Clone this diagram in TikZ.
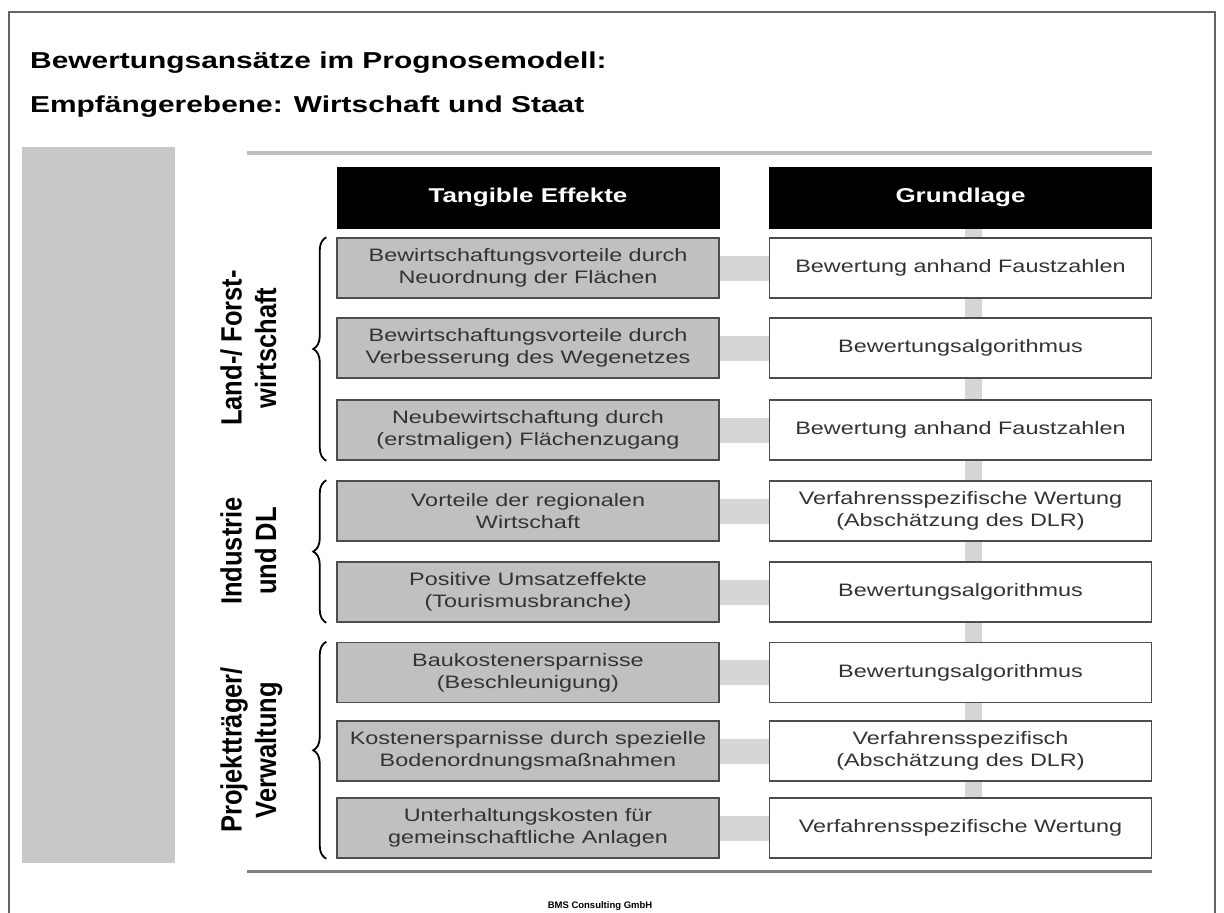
\documentclass[tikz,border=0pt]{standalone}
\usepackage{fontspec}
\usepackage{graphicx}
\setmainfont{Liberation Sans}[FakeStretch=1.3]
\newfontfamily\gruppenfont{Liberation Sans}
\usetikzlibrary{decorations.pathreplacing,backgrounds}
\definecolor{kastengrau}{HTML}{C0C0C0}
\definecolor{randgrau}{HTML}{4D4D4D}
\definecolor{textgrau}{HTML}{333333}
\definecolor{bandgrau}{HTML}{D6D6D6}
\definecolor{flaeche}{HTML}{C8C8C8}

\begin{document}
\begin{tikzpicture}[x=1pt,y=-1pt,
    effekt/.style={draw=randgrau, line width=1.5pt, fill=kastengrau, text=textgrau,
      minimum width=382pt, minimum height=60pt, inner sep=0pt, align=center,
      font=\fontsize{18}{22}\selectfont},
    grundlage/.style={effekt, fill=white},
    kopf/.style={draw=black, fill=black, text=white, minimum width=382pt,
      minimum height=61pt, inner sep=0pt, font=\fontsize{20}{24}\selectfont\bfseries},
    band/.style={draw=bandgrau},
    klammer/.style={decorate, decoration={brace, amplitude=13pt}, line width=1.8pt},
    gruppe/.style={rotate=90, inner sep=0pt, font=\gruppenfont\fontsize{25.5}{30}\selectfont\bfseries}]
    \useasboundingbox (0,0) rectangle (1224,913);
    % Rahmen und Flaechen
    \draw[line width=2pt, draw=black!60] (9,913) -- (9,12) -- (1215,12) -- (1215,913);
    \fill[flaeche] (22,147) rectangle (175,863);
    \draw[line width=4pt, draw=black!25] (247,153) -- (1152,153);
    \draw[line width=3pt, draw=black!50] (247,871) -- (1152,871);
    % Titel
    \node[anchor=base west, inner sep=0pt, font=\fontsize{23}{27}\selectfont\bfseries] (titel1) at (30,68) {Bewertungsans\"atze im Prognosemodell:};
    \node[anchor=base west, inner sep=0pt, font=\fontsize{23}{27}\selectfont\bfseries] (titel2) at (30,112) {Empf\"angerebene: Wirtschaft und Staat};
    % Kopfzeile
    \node[kopf] (heff) at (528,197.5) {Tangible Effekte};
    \node[kopf] (hgrund) at (960.5,197.5) {Grundlage};
    % Tangible Effekte
    \node[effekt] (e1) at (528,268) {Bewirtschaftungsvorteile durch\\Neuordnung der Fl\"achen};
    \node[effekt] (e2) at (528,348) {Bewirtschaftungsvorteile durch\\Verbesserung des Wegenetzes};
    \node[effekt] (e3) at (528,430) {Neubewirtschaftung durch\\(erstmaligen) Fl\"achenzugang};
    \node[effekt] (e4) at (528,511) {Vorteile der regionalen\\Wirtschaft};
    \node[effekt] (e5) at (528,592) {Positive Umsatzeffekte\\(Tourismusbranche)};
    \node[effekt] (e6) at (528,672.5) {Baukostenersparnisse\\(Beschleunigung)};
    \node[effekt] (e7) at (528,751) {Kostenersparnisse durch spezielle\\Bodenordnungsma\ss nahmen};
    \node[effekt] (e8) at (528,828) {Unterhaltungskosten f\"ur\\gemeinschaftliche Anlagen};
    % Grundlage
    \node[grundlage] (g1) at (960.5,268) {Bewertung anhand Faustzahlen};
    \node[grundlage] (g2) at (960.5,348) {Bewertungsalgorithmus};
    \node[grundlage] (g3) at (960.5,430) {Bewertung anhand Faustzahlen};
    \node[grundlage] (g4) at (960.5,511) {Verfahrensspezifische Wertung\\(Absch\"atzung des DLR)};
    \node[grundlage] (g5) at (960.5,592) {Bewertungsalgorithmus};
    \node[grundlage] (g6) at (960.5,672.5) {Bewertungsalgorithmus};
    \node[grundlage] (g7) at (960.5,751) {Verfahrensspezifisch\\(Absch\"atzung des DLR)};
    \node[grundlage] (g8) at (960.5,828) {Verfahrensspezifische Wertung};
    % Verbindungen (hinter den Kaesten)
    \begin{scope}[on background layer]
        \draw[band, line width=17pt] ([xshift=13pt]hgrund.south) -- ([xshift=13pt]g8.north);
        \foreach \i in {1,...,8}
            \draw[band, line width=25pt] (e\i.east) -- (g\i.west);
    \end{scope}
    % Gruppen
    \draw[klammer] ([xshift=-10pt]e3.south west) -- ([xshift=-10pt]e1.north west);
    \draw[klammer] ([xshift=-10pt]e5.south west) -- ([xshift=-10pt]e4.north west);
    \draw[klammer] ([xshift=-10pt]e8.south west) -- ([xshift=-10pt]e6.north west);
    \node[gruppe] (land) at (252,348) {\scalebox{1}[1.15]{\begin{tabular}{@{}c@{}}Land-/ Forst-\\wirtschaft\end{tabular}}};
    \node[gruppe] (indu) at (252,551) {\scalebox{1}[1.15]{\begin{tabular}{@{}c@{}}Industrie\\und DL\end{tabular}}};
    \node[gruppe] (proj) at (252,750) {\scalebox{1}[1.15]{\begin{tabular}{@{}c@{}}Projekttr\"ager/\\Verwaltung\end{tabular}}};
    % Fusszeile
    \node[font=\gruppenfont\fontsize{9.5}{11}\selectfont\bfseries, inner sep=0pt] (fuss) at (600,906) {BMS Consulting GmbH};
\end{tikzpicture}
\end{document}
